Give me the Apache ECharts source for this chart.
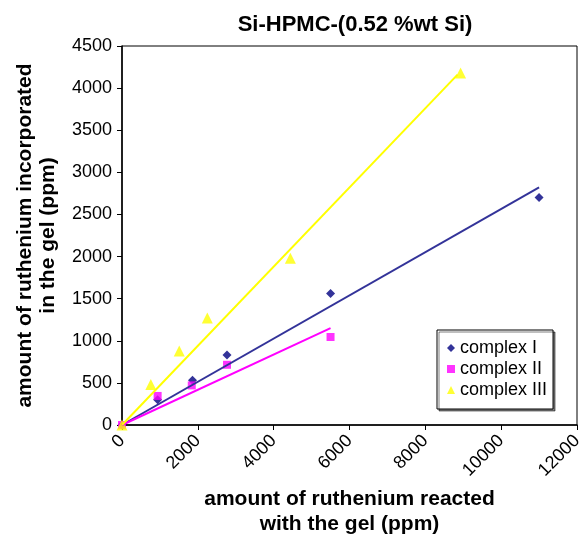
<!DOCTYPE html>
<html>
<head>
    <meta charset="utf-8">
    <title>Si-HPMC</title>
    <script src="https://cdn.jsdelivr.net/npm/echarts@6/dist/echarts.min.js"></script>
    <style>
        html, body { margin: 0; padding: 0; background: #fff; }
        #main { width: 583px; height: 534px; }
    </style>
</head>
<body>
<div id="main"></div>
<script>
    // values (ppm)
    var xComplexI = [0, 940, 1860, 2770, 5500, 11000];
    var yComplexI = [0, 300, 530, 830, 1560, 2700];
    var xComplexII = [0, 940, 1840, 2770, 5500];
    var yComplexII = [0, 345, 470, 715, 1045];
    var xComplexIII = [0, 760, 1510, 2250, 4440, 8930];
    var yComplexIII = [0, 480, 880, 1270, 1980, 4180];

    // trend line ends as drawn in the figure
    var fitI = [[0, 0], [11000, 2820]];
    var fitII = [[0, 0], [5500, 1150]];
    var fitIII = [[0, 0], [8850, 4160]];

    var seriesNames = ['complex I', 'complex II', 'complex III'];

    function pairs(xs, ys) {
        var out = [];
        for (var i = 0; i < xs.length; i++) out.push([xs[i], ys[i]]);
        return out;
    }

    var font = 'Liberation Sans, Arial, sans-serif';
    var chart = echarts.init(document.getElementById('main'));

    var option = {
        animation: false,
        textStyle: { fontFamily: font },
        title: {
            text: 'Si-HPMC-(0.52 %wt Si)',
            left: 350, top: 9, textAlign: 'center',
            textStyle: { fontSize: 22, fontWeight: 'bold', color: '#000', fontFamily: font }
        },
        grid: {
            left: 122, right: 6, top: 46, bottom: 109,
            outerBoundsMode: 'none', containLabel: false,
            show: true, borderColor: '#000', borderWidth: 1, backgroundColor: '#fff'
        },
        legend: {
            orient: 'vertical',
            left: 437, top: 330,
            data: [
                { name: seriesNames[0], icon: 'diamond' },
                { name: seriesNames[1], icon: 'rect' },
                { name: seriesNames[2], icon: 'triangle' }
            ],
            itemWidth: 8, itemHeight: 8, itemGap: 3,
            padding: [9, 6, 10, 10],
            borderColor: '#000', borderWidth: 1,
            backgroundColor: '#fff',
            shadowColor: 'rgba(0,0,0,0.5)', shadowOffsetX: 2, shadowOffsetY: 2,
            textStyle: { fontSize: 18, color: '#000', fontFamily: font }
        },
        xAxis: {
            type: 'value', min: 0, max: 12000, interval: 2000,
            name: 'amount of ruthenium reacted\nwith the gel (ppm)',
            nameLocation: 'middle', nameGap: 60,
            nameTextStyle: { fontSize: 21, fontWeight: 'bold', color: '#000', lineHeight: 25 },
            axisLine: { lineStyle: { color: '#000', width: 1.5 } },
            axisTick: { length: 5, lineStyle: { color: '#000' } },
            axisLabel: {
                rotate: 45, fontSize: 18, color: '#000', margin: 13,
                formatter: function (v) { return String(v); }
            },
            splitLine: { show: false }
        },
        yAxis: {
            type: 'value', min: 0, max: 4500, interval: 500,
            name: 'amount of ruthenium incorporated\nin the gel (ppm)',
            nameLocation: 'middle', nameGap: 62,
            nameTextStyle: { fontSize: 21, fontWeight: 'bold', color: '#000', lineHeight: 23 },
            axisLine: { show: true, lineStyle: { color: '#000', width: 1.5 } },
            axisTick: { show: true, length: 5, lineStyle: { color: '#000' } },
            axisLabel: {
                fontSize: 18, color: '#000', margin: 10,
                formatter: function (v) { return String(v); }
            },
            splitLine: { show: false }
        },
        series: [
            {
                type: 'line', data: fitI, symbol: 'none', silent: true,
                lineStyle: { color: '#333399', width: 2 }
            },
            {
                type: 'line', data: fitII, symbol: 'none', silent: true,
                lineStyle: { color: '#ff00ff', width: 2 }
            },
            {
                type: 'line', data: fitIII, symbol: 'none', silent: true,
                lineStyle: { color: '#ffff00', width: 2 }
            },
            {
                name: seriesNames[0], type: 'scatter', data: pairs(xComplexI, yComplexI),
                symbol: 'diamond', symbolSize: 9, clip: false,
                itemStyle: { color: '#000080' }
            },
            {
                name: seriesNames[1], type: 'scatter', data: pairs(xComplexII, yComplexII),
                symbol: 'rect', symbolSize: 8, clip: false,
                itemStyle: { color: '#ff00ff' }
            },
            {
                name: seriesNames[2], type: 'scatter', data: pairs(xComplexIII, yComplexIII),
                symbol: 'triangle', symbolSize: 11, clip: false,
                itemStyle: { color: '#ffff00' }
            }
        ]
    };

    chart.setOption(option);
</script>
</body>
</html>
